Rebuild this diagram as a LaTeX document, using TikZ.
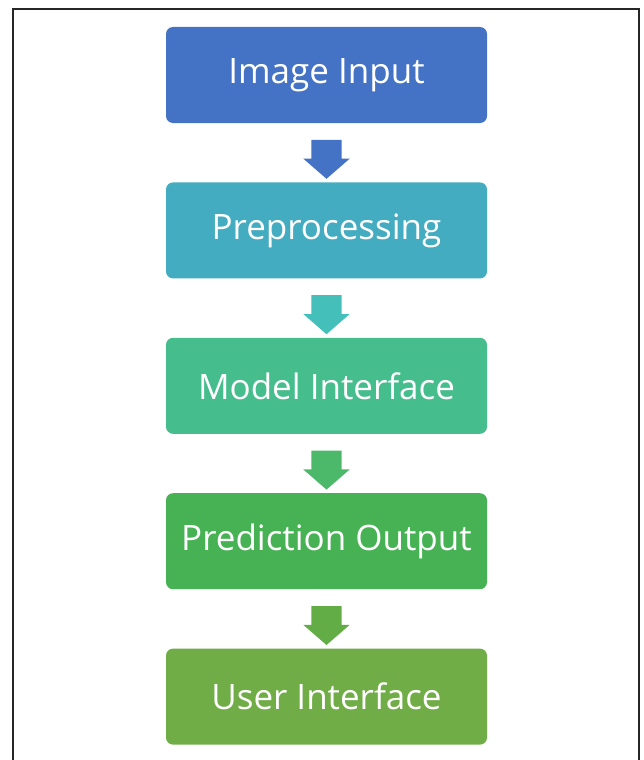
\documentclass[tikz,border=0pt]{standalone}
\usepackage{fontspec}
\setmainfont{Open Sans}
\usepackage{xcolor}
\usetikzlibrary{shapes.arrows, positioning}

\definecolor{stepblue}{HTML}{4472C4}
\definecolor{stepteal}{HTML}{43ACC0}
\definecolor{stepmint}{HTML}{46BD8C}
\definecolor{stepgreen}{HTML}{47B254}
\definecolor{stepolive}{HTML}{70AD47}
\definecolor{arrteal}{HTML}{45BFB9}
\definecolor{arrmint}{HTML}{4CB86A}
\definecolor{arrolive}{HTML}{62AD45}

\begin{document}
\begin{tikzpicture}[
  node distance=59pt,
  box/.style={rectangle, rounded corners=7pt, align=center, text=white,
    minimum width=321pt, minimum height=96pt, inner sep=0pt,
    font=\fontsize{35}{40}\selectfont},
  blockarrow/.style={single arrow, rotate=-90, draw=none, inner sep=0pt,
    text height=15pt, text depth=15pt, text width=0pt,
    minimum height=39pt, single arrow head extend=8pt,
    single arrow tip angle=98, single arrow head indent=0pt},
]
  \useasboundingbox (0,0) rectangle (644pt,-760pt);
  \draw[line width=2pt, black!85] (13pt,-775pt) |- (639pt,-9pt) -- (639pt,-775pt);

  \node[box, fill=stepblue] (input) at (326.5pt,-75pt) {Image Input};
  \node[box, fill=stepteal, below=of input] (prep) {Preprocessing};
  \node[box, fill=stepmint, below=of prep] (model) {Model Interface};
  \node[box, fill=stepgreen, below=of model] (pred) {Prediction Output};
  \node[box, fill=stepolive, below=of pred] (ui) {User Interface};

  \path (input) -- node[blockarrow, fill=stepblue] {} (prep);
  \path (prep) -- node[blockarrow, fill=arrteal] {} (model);
  \path (model) -- node[blockarrow, fill=arrmint] {} (pred);
  \path (pred) -- node[blockarrow, fill=arrolive] {} (ui);
\end{tikzpicture}
\end{document}
